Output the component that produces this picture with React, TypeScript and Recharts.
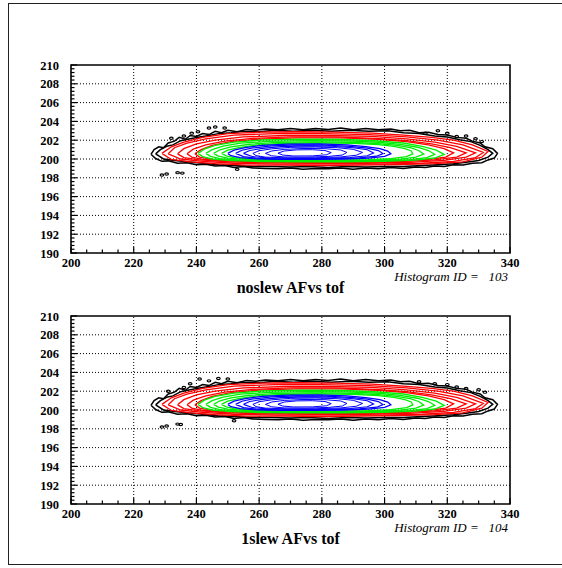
import { ScatterChart, Scatter, XAxis, YAxis, ReferenceLine, ReferenceArea } from "recharts";

type Pt = [number, number];

// axis ticks
const xMajor = [200, 220, 240, 260, 280, 300, 320, 340];
const yMajor = [190, 192, 194, 196, 198, 200, 202, 204, 206, 208, 210];
const xSub = 4;
const ySub = 5;

// contour levels (tof, AF), outermost first
const black1: Pt[] = [
  [225.5, 200.5], [226.5, 201.0], [228, 201.3], [229.5, 201.2], [231, 201.7], [233, 201.9], [234.5, 202.3], [236.5, 202.1],
  [238, 202.5], [240, 202.4], [242, 202.7], [244, 202.6], [246, 202.95], [248, 202.8], [250, 203.05], [253, 202.9],
  [256, 203.15], [259, 203.05], [262, 203.2], [266, 203.1], [270, 203.25], [274, 203.1], [278, 203.25], [282, 203.15],
  [286, 203.3], [290, 203.1], [294, 203.25], [298, 203.1], [302, 203.2], [305, 203.0], [308, 203.05], [311, 202.8],
  [314, 202.85], [317, 202.6], [320, 202.55], [323, 202.3], [326, 202.2], [328, 201.9], [330.5, 201.7], [332, 201.3],
  [334.5, 201.1], [336, 200.6], [335, 200.1], [333, 199.9], [331, 199.6], [328, 199.55], [325, 199.35], [322, 199.4],
  [319, 199.2], [316, 199.25], [313, 199.1], [310, 199.15], [306, 199.0], [302, 199.1], [298, 198.95], [294, 199.05],
  [290, 198.9], [286, 199.05], [282, 198.95], [278, 199.0], [274, 198.9], [270, 199.05], [266, 198.95], [262, 199.0],
  [258, 199.05], [255, 199.2], [252, 199.1], [249, 199.3], [246, 199.25], [243, 199.45], [240, 199.4], [237, 199.6],
  [234, 199.55], [231, 199.8], [229, 199.75], [227, 200.05], [225.5, 200.5],
];
const black2: Pt[] = [
  [227, 200.55], [228.5, 201.0], [230.5, 201.35], [232.5, 201.5], [235, 201.95], [238, 202.15], [241, 202.35], [244, 202.5],
  [247, 202.7], [251, 202.8], [255, 202.95], [260, 202.9], [265, 203.05], [271, 202.95], [277, 203.05], [283, 202.95],
  [289, 203.05], [295, 202.95], [301, 203.0], [306, 202.8], [311, 202.7], [316, 202.45], [320, 202.35], [324, 202.05],
  [327.5, 201.85], [330.5, 201.45], [333, 201.0], [334.5, 200.6], [333, 200.2], [330, 199.85], [326, 199.65], [322, 199.5],
  [317, 199.4], [312, 199.3], [306, 199.2], [300, 199.2], [294, 199.15], [288, 199.2], [282, 199.1], [276, 199.2],
  [270, 199.15], [264, 199.2], [258, 199.2], [252, 199.3], [247, 199.4], [242, 199.55], [237, 199.7], [233, 199.85],
  [229.5, 200.0], [227, 200.55],
];
const red1: Pt[] = [
  [229, 200.6], [232, 201.3], [236, 201.8], [242, 202.3], [250, 202.7], [260, 202.85], [272, 202.9], [284, 202.85],
  [296, 202.75], [306, 202.55], [315, 202.3], [322, 202.0], [328, 201.5], [333, 200.8], [331, 200.2], [325, 199.7],
  [316, 199.5], [304, 199.4], [292, 199.35], [280, 199.3], [268, 199.35], [256, 199.35], [246, 199.5], [238, 199.7],
  [232, 199.95], [229, 200.6],
];
const red2: Pt[] = [
  [231, 200.55], [233, 201.2], [237, 201.7], [243, 202.15], [252, 202.55], [265, 202.7], [280, 202.7], [295, 202.6],
  [307, 202.35], [317, 202.0], [325, 201.5], [331.5, 200.7], [329, 200.15], [322, 199.75], [312, 199.55], [298, 199.45],
  [282, 199.45], [266, 199.45], [252, 199.55], [242, 199.75], [235, 200.0], [231, 200.55],
];
const red3: Pt[] = [
  [234, 200.55], [236, 201.1], [240, 201.6], [246, 202.0], [255, 202.35], [268, 202.5], [282, 202.5], [296, 202.4],
  [307, 202.15], [316, 201.8], [323, 201.35], [329, 200.65], [326, 200.2], [319, 199.85], [308, 199.65], [294, 199.55],
  [278, 199.55], [262, 199.6], [250, 199.7], [241, 199.9], [236, 200.15], [234, 200.55],
];
const red4: Pt[] = [
  [237, 200.55], [239, 201.05], [243, 201.5], [249, 201.9], [258, 202.2], [270, 202.35], [284, 202.35], [297, 202.2],
  [307, 201.95], [315, 201.6], [321, 201.2], [326, 200.65], [323, 200.2], [316, 199.9], [305, 199.72], [291, 199.62],
  [276, 199.62], [261, 199.67], [250, 199.78], [242, 199.95], [238.5, 200.2], [237, 200.55],
];
const red5: Pt[] = [
  [239.5, 200.55], [241.5, 201.0], [245, 201.45], [251, 201.85], [260, 202.12], [272, 202.25], [286, 202.25], [298, 202.1],
  [307, 201.85], [314, 201.5], [319, 201.1], [322, 200.65], [319.5, 200.2], [313, 199.92], [303, 199.76], [290, 199.67],
  [276, 199.66], [262, 199.7], [252, 199.8], [245, 199.96], [241, 200.2], [239.5, 200.55],
];
const green1: Pt[] = [
  [240.5, 200.6], [242.5, 201.05], [246, 201.45], [252, 201.8], [261, 202.02], [273, 202.1], [287, 202.08], [298, 201.92],
  [306, 201.7], [312, 201.35], [316.5, 200.95], [319, 200.5], [316, 200.1], [310, 199.88], [300, 199.76], [287, 199.7],
  [273, 199.7], [260, 199.74], [251, 199.84], [245, 200.0], [242, 200.25], [240.5, 200.6],
];
const green2: Pt[] = [
  [243, 200.6], [245, 201.0], [248.5, 201.36], [254, 201.68], [263, 201.88], [275, 201.95], [288, 201.92], [298, 201.78],
  [305, 201.55], [310.5, 201.25], [314, 200.9], [316, 200.5], [313.5, 200.15], [308, 199.93], [299, 199.82], [287, 199.76],
  [274, 199.76], [262, 199.8], [253, 199.9], [247.5, 200.05], [244.5, 200.28], [243, 200.6],
];
const green3: Pt[] = [
  [245.5, 200.6], [247.5, 200.98], [251, 201.28], [257, 201.57], [266, 201.76], [277, 201.82], [289, 201.78], [298, 201.64],
  [304, 201.44], [308.5, 201.18], [311, 200.88], [312.5, 200.52], [310, 200.2], [305, 199.99], [297, 199.87], [286, 199.82],
  [274, 199.82], [263, 199.86], [255, 199.95], [250, 200.1], [247, 200.3], [245.5, 200.6],
];
const green4: Pt[] = [
  [248, 200.6], [250, 200.95], [253.5, 201.22], [259, 201.48], [267, 201.65], [278, 201.71], [290, 201.66], [298, 201.52],
  [303, 201.34], [306.5, 201.1], [308.5, 200.85], [309, 200.55], [307, 200.25], [302, 200.04], [295, 199.93], [285, 199.88],
  [274, 199.88], [264, 199.92], [257, 200.0], [252, 200.15], [249.5, 200.33], [248, 200.6],
];
const blue1: Pt[] = [
  [250, 200.6], [252, 200.95], [255.5, 201.22], [261, 201.45], [269, 201.58], [279, 201.6], [288, 201.5], [294, 201.32],
  [298.5, 201.1], [301, 200.85], [302, 200.55], [300, 200.28], [295, 200.1], [287, 200.0], [277, 199.95], [267, 199.96],
  [259, 200.02], [254, 200.15], [251, 200.35], [250, 200.6],
];
const blue2: Pt[] = [
  [252.5, 200.6], [254.5, 200.93], [258, 201.18], [264, 201.4], [272, 201.5], [281, 201.48], [289, 201.35], [294.5, 201.15],
  [298, 200.9], [299.5, 200.58], [297.5, 200.3], [292, 200.12], [284, 200.03], [274, 200.0], [265, 200.02], [259, 200.1],
  [255, 200.25], [252.5, 200.6],
];
const blue3: Pt[] = [
  [255, 200.6], [257, 200.9], [261, 201.13], [267, 201.32], [275, 201.4], [283, 201.36], [290, 201.2], [294.5, 200.98],
  [296.5, 200.65], [294.5, 200.35], [289, 200.16], [281, 200.07], [271, 200.06], [263, 200.1], [258, 200.25], [255, 200.6],
];
const blue4: Pt[] = [
  [258, 200.6], [260, 200.88], [264, 201.08], [270, 201.24], [278, 201.27], [285, 201.2], [290, 201.03], [293, 200.7],
  [291, 200.4], [286, 200.22], [278, 200.13], [269, 200.12], [262, 200.2], [259, 200.36], [258, 200.6],
];
const blue5: Pt[] = [
  [262, 200.6], [264, 200.85], [268, 201.02], [274, 201.12], [281, 201.1], [286, 200.96], [288, 200.7], [286.5, 200.42],
  [282, 200.27], [275, 200.2], [268, 200.22], [264, 200.34], [262, 200.6],
];
const blue6: Pt[] = [
  [266, 200.62], [268, 200.85], [272, 200.97], [277, 200.99], [281, 200.9], [283, 200.68], [281.5, 200.45], [277, 200.33],
  [271, 200.32], [267.5, 200.42], [266, 200.62],
];

// isolated low-count islands
const specks103: Pt[] = [
  [229, 198.3], [230.5, 198.4], [234, 198.55], [235.5, 198.5], [253, 198.9], [232, 202.2], [236, 202.45],
  [238.5, 202.75], [240.5, 202.9], [244, 203.3], [246, 203.4], [249, 203.3], [313, 202.75], [317, 203.0],
  [320, 202.75], [323, 202.4], [326, 202.45], [329, 202.15], [331, 201.85],
];
const specks104: Pt[] = [
  [229, 198.2], [230.5, 198.3], [234, 198.5], [235, 198.45], [252, 198.85], [231, 202.0], [236, 202.4],
  [238, 202.8], [241, 203.3], [244, 203.1], [247, 203.35], [250, 203.3], [311, 203.0], [316, 202.8],
  [320, 202.7], [323, 202.45], [326, 202.3], [330, 202.15], [332, 201.9],
];

const levels: { pts: Pt[]; color: string; w: number }[] = [
  { pts: black1, color: "#000000", w: 1.5 },
  { pts: black2, color: "#000000", w: 1.5 },
  { pts: red1, color: "#ff0000", w: 1.3 },
  { pts: red2, color: "#ff0000", w: 1.3 },
  { pts: red3, color: "#ff0000", w: 1.3 },
  { pts: red4, color: "#ff0000", w: 1.3 },
  { pts: red5, color: "#ff0000", w: 1.3 },
  { pts: green1, color: "#00ee00", w: 1.4 },
  { pts: green2, color: "#00ee00", w: 1.3 },
  { pts: green3, color: "#00ee00", w: 1.3 },
  { pts: green4, color: "#00ee00", w: 1.3 },
  { pts: blue1, color: "#0000ff", w: 1.3 },
  { pts: blue2, color: "#0000ff", w: 1.2 },
  { pts: blue3, color: "#0000ff", w: 1.1 },
  { pts: blue4, color: "#0000ff", w: 1 },
  { pts: blue5, color: "#0000ff", w: 1 },
  { pts: blue6, color: "#0000ff", w: 1 },
];

const panels = [
  { id: 103, title: "noslew AFvs tof", specks: specks103, top: 0 },
  { id: 104, title: "1slew AFvs tof", specks: specks104, top: 251 },
];

const serif = "'Liberation Serif', 'Times New Roman', serif";

function subTicks(major: number[], n: number) {
  const out: number[] = [];
  for (let i = 0; i < major.length - 1; i++) {
    const step = (major[i + 1] - major[i]) / n;
    for (let k = 0; k < n; k++) out.push(+(major[i] + k * step).toFixed(3));
  }
  out.push(major[major.length - 1]);
  return out;
}

const xTicks = subTicks(xMajor, xSub);
const yTicks = subTicks(yMajor, ySub);
const toXY = (pts: Pt[]) => pts.map(([x, y]) => ({ x, y }));

function XTick(props: any) {
  const { x, y, payload } = props;
  const major = xMajor.includes(payload.value);
  return (
    <g>
      <line x1={x} x2={x} y1={y} y2={y - (major ? 6 : 3.5)} stroke="#000" strokeWidth={1.2} />
      {major && (
        <text x={x} y={y + 14} textAnchor="middle" fontFamily={serif} fontWeight="bold" fontSize={12.5} fill="#000">
          {payload.value}
        </text>
      )}
    </g>
  );
}

function YTick(props: any) {
  const { x, y, payload } = props;
  const major = yMajor.includes(payload.value);
  return (
    <g>
      <line x1={x} x2={x + (major ? 6 : 3.5)} y1={y} y2={y} stroke="#000" strokeWidth={1.2} />
      {major && (
        <text x={x - 12} y={y + 4.5} textAnchor="end" fontFamily={serif} fontWeight="bold" fontSize={12.5} fill="#000">
          {payload.value}
        </text>
      )}
    </g>
  );
}

const Speck = (p: any) => (
  <ellipse cx={p.cx} cy={p.cy} rx={1.8} ry={1.1} fill="none" stroke="#000" strokeWidth={1.2} />
);
const NoDot = () => <g />;

function Panel({ specks, top }: { specks: Pt[]; top: number }) {
  return (
    <div style={{ position: "absolute", left: 0, top, width: 562, height: 300 }}>
      <ScatterChart width={562} height={300} margin={{ top: 65, right: 52, bottom: 0, left: 0 }}>
        <XAxis
          type="number"
          dataKey="x"
          domain={[200, 340]}
          ticks={xTicks}
          interval={0}
          height={47}
          tickSize={0}
          tickMargin={0}
          axisLine={false}
          tickLine={false}
          tick={XTick}
          allowDataOverflow
        />
        <YAxis
          type="number"
          dataKey="y"
          domain={[190, 210]}
          ticks={yTicks}
          interval={0}
          width={71}
          tickSize={0}
          tickMargin={0}
          axisLine={false}
          tickLine={false}
          tick={YTick}
          allowDataOverflow
        />
        {xMajor.slice(1, -1).map((v) => (
          <ReferenceLine key={`gx${v}`} x={v} stroke="#000" strokeWidth={1} strokeDasharray="1 2" />
        ))}
        {yMajor.slice(1, -1).map((v) => (
          <ReferenceLine key={`gy${v}`} y={v} stroke="#000" strokeWidth={1} strokeDasharray="1 2" />
        ))}
        {levels.map((lv, i) => (
          <Scatter
            key={i}
            data={toXY(lv.pts)}
            fill={lv.color}
            line={{ stroke: lv.color, strokeWidth: lv.w }}
            lineType="joint"
            lineJointType="linear"
            shape={NoDot}
            isAnimationActive={false}
          />
        ))}
        <Scatter data={toXY(specks)} fill="#000" shape={Speck} isAnimationActive={false} />
        <ReferenceArea x1={200} x2={340} y1={190} y2={210} fill="none" stroke="#000" strokeWidth={1.6} />
      </ScatterChart>
    </div>
  );
}

export default function App() {
  return (
    <div style={{ position: "absolute", left: 0, top: 0, width: 562, height: 568, background: "#fff", overflow: "hidden" }}>
      <div
        style={{ position: "absolute", left: 8, top: 3, width: 570, height: 562, border: "1.5px solid #222", boxSizing: "border-box" }}
      />
      {panels.map((p) => (
        <Panel key={p.id} specks={p.specks} top={p.top} />
      ))}
      <svg width={562} height={568} style={{ position: "absolute", left: 0, top: 0, pointerEvents: "none" }}>
        {panels.map((p) => (
          <g key={p.id}>
            <text x={508} y={p.top + 281} textAnchor="end" fontFamily={serif} fontStyle="italic" fontSize={13} xmlSpace="preserve">
              {`Histogram ID =   ${p.id}`}
            </text>
            <text x={290.5} y={p.top + 293} textAnchor="middle" fontFamily={serif} fontWeight="bold" fontSize={16}>
              {p.title}
            </text>
          </g>
        ))}
      </svg>
    </div>
  );
}
